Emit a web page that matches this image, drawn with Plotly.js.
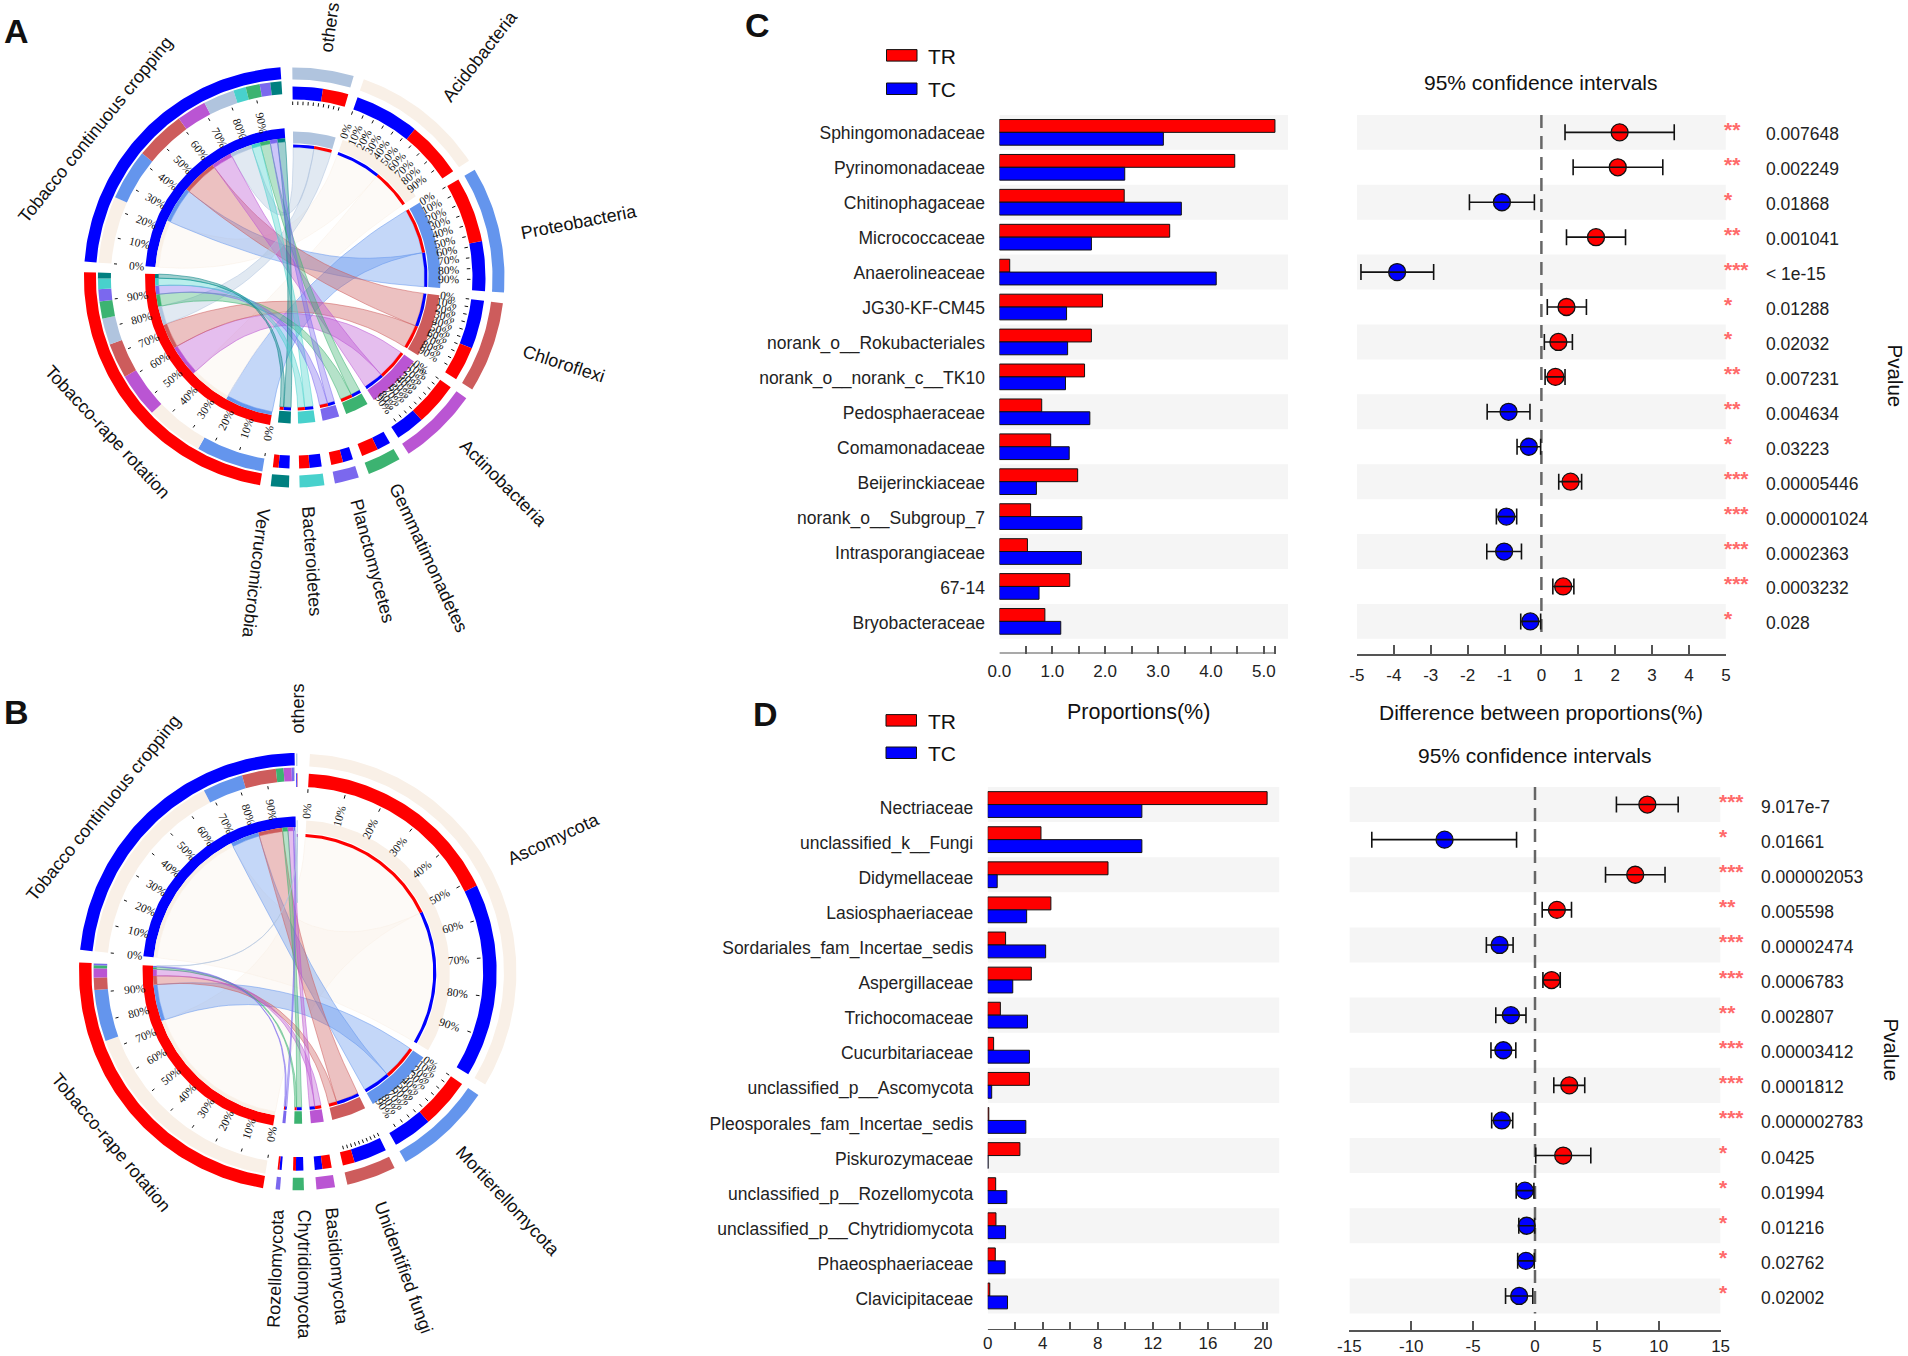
<!DOCTYPE html>
<html><head><meta charset="utf-8">
<script src="https://cdn.plot.ly/plotly-3.0.1.min.js"></script>
<style>html,body{margin:0;padding:0;background:#fff}</style></head>
<body><div id="plot" style="width:1908px;height:1356px"></div>
<script>
// ---------- Panel A data (relative abundance, % of each sample) ----------
const phylaA   = ['others','Acidobacteria','Proteobacteria','Chloroflexi','Actinobacteria','Gemmatimonadetes','Planctomycetes','Bacteroidetes','Verrucomicrobia'];
const tcA      = [11.2,24.1,18.4,18.0,10.7,5.1,3.8,4.5,4.0];
const trA      = [9.5,20.9,24.3,12.7,16.1,6.2,4.4,3.8,2.1];
const firstA   = ['TC','TC','TR','TC','TR','TC','TC','TC','TC'];
const BEIGE = '#F9F0E7';
const colorsA  = ['#B0C4DE',BEIGE,'#6495ED','#CD5C5C','#BA55D3','#3CB371','#7B68EE','#48D1CC','#008080'];
const orderTcA = ['Acidobacteria','Proteobacteria','Chloroflexi','Actinobacteria','others','Bacteroidetes','Gemmatimonadetes','Planctomycetes','Verrucomicrobia'];
const orderTrA = ['Proteobacteria','Acidobacteria','Actinobacteria','Chloroflexi','others','Gemmatimonadetes','Planctomycetes','Bacteroidetes','Verrucomicrobia'];
const tickedA  = ['others'];
const labeledA = ['Acidobacteria','Proteobacteria','Chloroflexi','Actinobacteria'];
// ---------- Panel B data ----------
const phylaB   = ['others','Ascomycota','Mortierellomycota','Unidentified fungi','Basidiomycota','Chytridiomycota','Rozellomycota'];
const tcB      = [0.3,68.2,13.8,11.6,2.7,2.6,0.8];
const trB      = [0.1,73.3,17.6,4.2,3.2,1.0,0.6];
const firstB   = ['TC','TR','TR','TC','TR','TC','TC'];
const colorsB  = ['#B0C4DE',BEIGE,'#6495ED','#CD5C5C','#BA55D3','#3CB371','#7B68EE'];
const orderTcB = ['Ascomycota','Mortierellomycota','Unidentified fungi','Chytridiomycota','Basidiomycota','Rozellomycota','others'];
const orderTrB = ['Ascomycota','Mortierellomycota','Unidentified fungi','Basidiomycota','Chytridiomycota','Rozellomycota','others'];
const tickedB  = ['Unidentified fungi'];
const labeledB = ['Ascomycota','Mortierellomycota'];
// outer labels: text, clockwise angle (deg), radius (px), rotation (deg)
const outerTextA = ['others','Acidobacteria','Proteobacteria','Chloroflexi','Actinobacteria','Gemmatimonadetes','Planctomycetes','Bacteroidetes','Verrucomicrobia','Tobacco-rape rotation','Tobacco continuous cropping'];
const outerAngA  = [8.1,40,79,107.9,134.6,154.5,164.6,176.5,187.4,230.4,306.5];
const outerRadA  = [252.7,289,290,283,293,311,294,284,298,243,248];
const outerRotA  = [-82,-52,-11,18,45,65,75,86,97,47,-51];
const outerTextB = ['others','Ascomycota','Mortierellomycota','Unidentified fungi','Basidiomycota','Chytridiomycota','Rozellomycota','Tobacco-rape rotation','Tobacco continuous cropping'];
const outerAngB  = [0.1,62.5,137.6,160.3,172.5,178.8,184.3,227.5,310.1];
const outerRadB  = [264,288,310.7,314,296.5,303,297,253,254.5];
const outerRotB  = [-90,-25,47,70,85,90,-88,50,-51];

// ---------- Panel C data ----------
const taxaC = ['Sphingomonadaceae','Pyrinomonadaceae','Chitinophagaceae','Micrococcaceae','Anaerolineaceae','JG30-KF-CM45','norank_o__Rokubacteriales','norank_o__norank_c__TK10','Pedosphaeraceae','Comamonadaceae','Beijerinckiaceae','norank_o__Subgroup_7','Intrasporangiaceae','67-14','Bryobacteraceae'];
const barTrC = [5.21,4.45,2.36,3.22,0.195,1.95,1.74,1.61,0.80,0.97,1.48,0.59,0.53,1.33,0.86];
const barTcC = [3.10,2.37,3.44,1.74,4.10,1.27,1.29,1.25,1.71,1.32,0.70,1.56,1.55,0.75,1.16];
const diffC  = [2.12,2.07,-1.07,1.48,-3.91,0.68,0.46,0.38,-0.89,-0.34,0.79,-0.95,-1.01,0.59,-0.30];
const loC    = [0.64,0.86,-1.95,0.68,-4.89,0.16,0.08,0.10,-1.47,-0.66,0.47,-1.22,-1.48,0.31,-0.56];
const hiC    = [3.60,3.29,-0.19,2.28,-2.92,1.22,0.84,0.64,-0.31,-0.02,1.09,-0.67,-0.54,0.88,-0.02];
const starC  = ['**','**','*','**','***','*','*','**','**','*','***','***','***','***','*'];
const pvalC  = ['0.007648','0.002249','0.01868','0.001041','< 1e-15','0.01288','0.02032','0.007231','0.004634','0.03223','0.00005446','0.000001024','0.0002363','0.0003232','0.028'];
// ---------- Panel D data ----------
const taxaD = ['Nectriaceae','unclassified_k__Fungi','Didymellaceae','Lasiosphaeriaceae','Sordariales_fam_Incertae_sedis','Aspergillaceae','Trichocomaceae','Cucurbitariaceae','unclassified_p__Ascomycota','Pleosporales_fam_Incertae_sedis','Piskurozymaceae','unclassified_p__Rozellomycota','unclassified_p__Chytridiomycota','Phaeosphaeriaceae','Clavicipitaceae'];
const barTrD = [20.3,3.87,8.74,4.59,1.30,3.17,0.92,0.43,3.03,0.08,2.34,0.58,0.60,0.55,0.15];
const barTcD = [11.2,11.2,0.69,2.83,4.21,1.82,2.89,3.03,0.29,2.77,0.03,1.39,1.30,1.27,1.44];
const diffD  = [9.08,-7.31,8.10,1.77,-2.86,1.34,-1.95,-2.56,2.77,-2.68,2.28,-0.82,-0.67,-0.73,-1.28];
const loD    = [6.58,-13.19,5.70,0.58,-3.93,0.64,-3.17,-3.56,1.52,-3.50,0.06,-1.52,-1.31,-1.40,-2.38];
const hiD    = [11.57,-1.49,10.51,2.95,-1.77,2.04,-0.73,-1.55,4.02,-1.80,4.51,-0.09,-0.03,-0.06,-0.18];
const starD  = ['***','*','***','**','***','***','**','***','***','***','*','*','*','*','*'];
const pvalD  = ['9.017e-7','0.01661','0.000002053','0.005598','0.00002474','0.0006783','0.002807','0.00003412','0.0001812','0.000002783','0.0425','0.01994','0.01216','0.02762','0.02002'];

const W=1908,H=1356;
const SANS='"Liberation Sans", Arial, sans-serif', SERIF='"Liberation Serif", serif';
const RED='#FF0000', BLUE='#0000FF';
const traces=[], annotations=[], shapes=[], layout={};
const domX=(a,b)=>[a/W,b/W], domY=(t,b)=>[1-b/H,1-t/H];

function rgba(hex,a){const n=parseInt(hex.slice(1),16);return `rgba(${n>>16},${(n>>8)&255},${n&255},${a})`;}
const pol=(r,deg)=>{const t=deg*Math.PI/180;return [r*Math.sin(t),r*Math.cos(t)];};
function arcPts(r,a0,a1){const n=Math.max(2,Math.ceil(Math.abs(a1-a0)));const o=[];for(let i=0;i<=n;i++)o.push(pol(r,a0+(a1-a0)*i/n));return o;}
function bez(p0,p1){const o=[];for(let i=1;i<24;i++){const t=i/24,m=(1-t)*(1-t),n=t*t;o.push([m*p0[0]+n*p1[0],m*p0[1]+n*p1[1]]);}return o;}

function chord(cfg){
  const {ax,ay,names,tc,tr,first,colors,orderTc,orderTr,ticked,labeled,k,gap,start,s,outerText,outerAng,outerRad,outerRot}=cfg;
  const addPoly=(pts,fill,line)=>traces.push({type:'scatter',xaxis:ax,yaxis:ay,mode:'lines',x:pts.map(p=>p[0]),y:pts.map(p=>p[1]),fill:'toself',fillcolor:fill,line:{color:line||fill,width:line?0.7:0},hoverinfo:'skip',showlegend:false,cliponaxis:false});
  const band=(r0,r1,a0,a1,c)=>addPoly(arcPts(r1,a0,a1).concat(arcPts(r0,a1,a0)),c);
  const sumTc=tc.reduce((p,c)=>p+c,0), sumTr=tr.reduce((p,c)=>p+c,0);
  let ang=start; const sec={};
  names.forEach((n,i)=>{const w=(tc[i]+tr[i])*k;sec[n]=[ang,ang+w];ang+=w+gap;});
  const trSec=[ang,ang+sumTr*k]; ang+=sumTr*k+gap;
  const tcSec=[ang,ang+sumTc*k];
  const R={o0:198*s,o1:210*s,p2a:178*s,p2b:191*s,g2a:183.6*s,g2b:196.6*s,pa:134*s,pb:146*s,ptA:130*s,ptB:133*s,ga:139.5*s,gb:149.5*s,gtA:136*s,gtB:139.5*s};
  const endP={},endG={};
  names.forEach((n,i)=>{const [a0]=sec[n];const tw=tc[i]*k,rw=tr[i]*k;
    if(first[i]==='TC'){endP[n]={TC:[a0,a0+tw],TR:[a0+tw,a0+tw+rw]};}
    else{endP[n]={TR:[a0,a0+rw],TC:[a0+rw,a0+rw+tw]};}});
  endG.TC={};let a=tcSec[0];orderTc.forEach(n=>{const w=tc[names.indexOf(n)]*k;endG.TC[n]=[a,a+w];a+=w;});
  endG.TR={};a=trSec[0];orderTr.forEach(n=>{const w=tr[names.indexOf(n)]*k;endG.TR[n]=[a,a+w];a+=w;});
  const rib=[];names.forEach((n,i)=>{rib.push({n,g:'TC',w:tc[i],c:colors[i]});rib.push({n,g:'TR',w:tr[i],c:colors[i]});});
  rib.sort((p,q)=>q.w-p.w);
  rib.forEach(r=>{const [a0,a1]=endP[r.n][r.g],[b0,b1]=endG[r.g][r.n];
    const A=arcPts(R.ptA,a0,a1),B=arcPts(R.gtA,b0,b1);
    const pts=A.concat(bez(A[A.length-1],B[0]),B,bez(B[B.length-1],A[0]));pts.push(A[0]);
    addPoly(pts,rgba(r.c,r.c===BEIGE?0.35:0.38),rgba(r.c,0.75));});
  names.forEach((n,i)=>{const [a0,a1]=sec[n];
    band(R.o0,R.o1,a0,a1,colors[i]);band(R.pa,R.pb,a0,a1,colors[i]);
    ['TC','TR'].forEach(g=>{const [x0,x1]=endP[n][g];const c=g==='TC'?BLUE:RED;band(R.p2a,R.p2b,x0,x1,c);band(R.ptA,R.ptB,x0,x1,c);});});
  [[trSec,RED,'TR'],[tcSec,BLUE,'TC']].forEach(([se,c,g])=>{band(R.g2b+2*s,R.g2b+14*s,se[0],se[1],c);band(R.ga,R.gb,se[0],se[1],c);
    Object.keys(endG[g]).forEach(n=>{const [x0,x1]=endG[g][n],col=colors[names.indexOf(n)];band(R.g2a,R.g2b,x0,x1,col);band(R.gtA,R.gtB,x0,x1,col);});});
  const tx=[],ty=[];
  const doTicks=(se,r0,r1,rl,lab)=>{for(let i=0;i<10;i++){const d=se[0]+(se[1]-se[0])*i/10;const p=pol(r0,d),q=pol(r1,d);tx.push(p[0],q[0],null);ty.push(p[1],q[1],null);
    if(lab){const c=pol(rl,d);const t=d*Math.PI/180;const sn=Math.sin(t),cs=Math.cos(t);const nd=((d%360)+360)%360;
      const rot=nd>180?Math.atan2(cs,-sn):Math.atan2(-cs,sn);
      annotations.push({xref:ax,yref:ay,x:c[0],y:c[1],text:(i*10)+'%',showarrow:false,textangle:rot*180/Math.PI,font:{family:SERIF,size:11.5,color:'#111'},xanchor:'center',yanchor:'middle'});}}};
  doTicks(trSec,178*s,181*s,158*s,true);doTicks(tcSec,178*s,181*s,158*s,true);
  labeled.forEach(n=>doTicks(sec[n],172.5*s,176*s,155*s,true));
  ticked.forEach(n=>doTicks(sec[n],172.5*s,176*s,0,false));
  traces.push({type:'scatter',xaxis:ax,yaxis:ay,mode:'lines',x:tx,y:ty,line:{color:'#111',width:1},hoverinfo:'skip',showlegend:false,cliponaxis:false});
  outerText.forEach((t,i)=>{const c=pol(outerRad[i],outerAng[i]);annotations.push({xref:ax,yref:ay,x:c[0],y:c[1],text:t,showarrow:false,textangle:outerRot[i],font:{family:SANS,size:18,color:'#111'},xanchor:'center',yanchor:'middle'});});
}
function hiddenAxes(n,xd,yd,xr,yr){
  layout['xaxis'+n]={domain:domX(...xd),range:xr,visible:false,fixedrange:true,anchor:'y'+n};
  layout['yaxis'+n]={domain:domY(...yd),range:yr,visible:false,fixedrange:true,anchor:'x'+n};
}
hiddenAxes(1,[0,600],[0,640],[-294.5,305.5],[-362.5,277.5]);
hiddenAxes(2,[0,600],[680,1356],[-298,302],[-384,292]);
chord({ax:'x1',ay:'y1',names:phylaA,tc:tcA,tr:trA,first:firstA,colors:colorsA,orderTc:orderTcA,orderTr:orderTrA,ticked:tickedA,labeled:labeledA,k:0.82,gap:2.91,start:-0.6,s:1,outerText:outerTextA,outerAng:outerAngA,outerRad:outerRadA,outerRot:outerRotA});
chord({ax:'x2',ay:'y2',names:phylaB,tc:tcB,tr:trB,first:firstB,colors:colorsB,orderTc:orderTcB,orderTr:orderTrB,ticked:tickedB,labeled:labeledB,k:0.833,gap:3.3,start:-0.5,s:1.04,outerText:outerTextB,outerAng:outerAngB,outerRad:outerRadB,outerRot:outerRotB});

const LABEL=17.5;
function barPanel(n,cfg){
  const {x0,x1,rowTop,rowH,axisY,xmax,axisEnd,majorVals,majorText,minorVals,taxa,tr,tc,labelShift,standoff}=cfg;
  const rows=taxa.length, yMax=rows-0.5+(axisY-(rowTop+rows*rowH))/rowH;
  layout['xaxis'+n]={domain:domX(x0,x1),range:[0,xmax],anchor:'y'+n,showgrid:false,zeroline:false,showline:false,ticks:'inside',ticklen:8,tickwidth:1.5,tickcolor:'#555',tickvals:majorVals,ticktext:majorText,minor:{tickvals:minorVals,ticks:'inside',ticklen:8,tickwidth:1.5,tickcolor:'#555',showgrid:false},tickangle:0,tickfont:{family:SANS,size:LABEL-0.5,color:'#222'},fixedrange:true,ticklabelstandoff:standoff};
  layout['yaxis'+n]={domain:domY(rowTop,axisY),range:[yMax,-0.5],anchor:'x'+n,showgrid:false,zeroline:false,showline:false,ticks:'outside',ticklen:10,tickcolor:'rgba(0,0,0,0)',tickvals:taxa.map((_,i)=>i),ticktext:taxa,tickfont:{family:SANS,size:LABEL,color:'#222'},fixedrange:true,ticklabelshift:labelShift};
  for(let i=0;i<rows;i+=2)shapes.push({type:'rect',xref:'x'+n,yref:'y'+n,x0:0,x1:xmax,y0:i-0.5,y1:i+0.5,fillcolor:'#F5F5F5',line:{width:0},layer:'below'});
  const idx=taxa.map((_,i)=>i);
  [[tr,RED,'TR'],[tc,BLUE,'TC']].forEach(([v,c,nm])=>traces.push({type:'bar',orientation:'h',xaxis:'x'+n,yaxis:'y'+n,y:idx,x:v,name:nm,marker:{color:c,line:{color:'#111',width:1}},showlegend:false,hoverinfo:'x+name'}));
  layout['barmode'] = 'group'; layout['bargap']=0.265; layout['bargroupgap']=0;
  traces.push({type:'scatter',mode:'lines',xaxis:'x'+n,yaxis:'y'+n,x:[0,axisEnd],y:[yMax,yMax],line:{color:'#555',width:2},cliponaxis:false,showlegend:false,hoverinfo:'skip'});
}
function ciPanel(n,cfg){
  const {x0,x1,rowTop,rowH,axisY,xr,taxa,diff,lo,hi,star,pval,tickVals,standoff}=cfg;
  const rows=taxa.length,yMax=rows-0.5+(axisY-(rowTop+rows*rowH))/rowH;
  layout['xaxis'+n]={domain:domX(x0,x1),range:xr,anchor:'y'+n,showgrid:false,zeroline:false,showline:true,linecolor:'#555',linewidth:2,ticks:'inside',ticklen:9,tickwidth:1.5,tickcolor:'#555',tickvals:tickVals,ticktext:tickVals.map(String),tickangle:0,tickfont:{family:SANS,size:LABEL-0.5,color:'#222'},fixedrange:true,ticklabelstandoff:standoff};
  layout['yaxis'+n]={domain:domY(rowTop,axisY),range:[yMax,-0.5],anchor:'x'+n,visible:false,fixedrange:true};
  for(let i=0;i<rows;i+=2)shapes.push({type:'rect',xref:'x'+n,yref:'y'+n,x0:xr[0],x1:xr[1],y0:i-0.5,y1:i+0.5,fillcolor:'#F5F5F5',line:{width:0},layer:'below'});
  const idx=taxa.map((_,i)=>i);
  traces.push({type:'scatter',mode:'lines',xaxis:'x'+n,yaxis:'y'+n,x:[0,0],y:[-0.5,rows-0.5],line:{color:'#666',width:2.5,dash:'13px,8px'},showlegend:false,hoverinfo:'skip'});
  traces.push({type:'scatter',mode:'markers',xaxis:'x'+n,yaxis:'y'+n,x:diff,y:idx,marker:{size:17,color:diff.map(d=>d>0?RED:BLUE),line:{color:'#111',width:1.3}},showlegend:false,cliponaxis:false,hoverinfo:'x'});
  traces.push({type:'scatter',mode:'markers',xaxis:'x'+n,yaxis:'y'+n,x:diff,y:idx,marker:{size:1,opacity:0},error_x:{type:'data',symmetric:false,array:hi.map((h,i)=>h-diff[i]),arrayminus:lo.map((l,i)=>diff[i]-l),color:'#111',thickness:1.6,width:8},showlegend:false,cliponaxis:false,hoverinfo:'skip'});
  idx.forEach(i=>{
    annotations.push({xref:'x'+n,yref:'y'+n,x:xr[1],y:i,xanchor:'left',yanchor:'middle',xshift:-4,yshift:3,text:'<b>'+star[i]+'</b>',showarrow:false,font:{family:SANS,size:21,color:'#FF6A6A'}});
    annotations.push({xref:'x'+n,yref:'y'+n,x:xr[1],y:i,xanchor:'left',yanchor:'middle',xshift:cfg.pvShift,yshift:-2,text:pval[i],showarrow:false,font:{family:SANS,size:LABEL,color:'#222'}});
  });
}
barPanel(3,{x0:999.4,x1:1288,rowTop:114.9,rowH:34.93,axisY:653.5,xmax:5.457,axisEnd:5.22,taxa:taxaC,tr:barTrC,tc:barTcC,labelShift:-1,standoff:5,
  majorVals:[0,1,2,3,4,5],majorText:['0.0','1.0','2.0','3.0','4.0','5.0'],minorVals:[0.5,1.5,2.5,3.5,4.5,5.22]});
barPanel(5,{x0:987.7,x1:1279.5,rowTop:787,rowH:35.1,axisY:1330,xmax:21.2,axisEnd:20.3,taxa:taxaD,tr:barTrD,tc:barTcD,labelShift:-3,standoff:1,
  majorVals:[0,4,8,12,16,20],majorText:['0','4','8','12','16','20'],minorVals:[2,6,10,14,18,20.3]});
ciPanel(4,{x0:1356.9,x1:1725.9,rowTop:114.9,rowH:34.93,axisY:653.5,xr:[-5,5],taxa:taxaC,diff:diffC,lo:loC,hi:hiC,star:starC,pval:pvalC,tickVals:[-5,-4,-3,-2,-1,0,1,2,3,4,5],pvShift:38,standoff:5});
ciPanel(6,{x0:1349.4,x1:1720.6,rowTop:787,rowH:35.1,axisY:1330,xr:[-15,15],taxa:taxaD,diff:diffD,lo:loD,hi:hiD,star:starD,pval:pvalD,tickVals:[-15,-10,-5,0,5,10,15],pvShift:38,standoff:0});

const paperText=(t,x,y,size,opt={})=>annotations.push(Object.assign({xref:'paper',yref:'paper',x:x/W,y:1-y/H,text:t,showarrow:false,xanchor:'center',yanchor:'middle',font:{family:SANS,size,color:'#111'}},opt));
const bold=t=>'<b>'+t+'</b>';
paperText(bold('A'),16,31,34);paperText(bold('B'),16,712,34);paperText(bold('C'),757,25,34);paperText(bold('D'),765,714,34);
paperText('95% confidence intervals',1540,82,21);
paperText('95% confidence intervals',1534,755,21);
paperText('Proportions(%)',1138,712,21.5);
paperText('Difference between proportions(%)',1541,712,21);
paperText('Pvalue',1895.5,376,20.5,{textangle:90});
paperText('Pvalue',1891.5,1050,20.5,{textangle:90});
[[886.5,49.6,'TR',RED],[886.5,83,'TC',BLUE],[886,714.6,'TR',RED],[886,747,'TC',BLUE]].forEach(([x,y,t,c])=>{
  shapes.push({type:'rect',xref:'paper',yref:'paper',x0:x/W,x1:(x+30.5)/W,y0:1-(y+11.5)/H,y1:1-y/H,fillcolor:c,line:{color:'#111',width:1}});
  paperText(t,x+39.5,y+6.5,21,{xanchor:'left'});
});

Object.assign(layout,{width:W,height:H,margin:{l:0,r:0,t:0,b:0},paper_bgcolor:'#fff',plot_bgcolor:'rgba(0,0,0,0)',showlegend:false,annotations,shapes,font:{family:SANS}});
Plotly.newPlot('plot',traces,layout,{displayModeBar:false,responsive:false});
</script></body></html>
